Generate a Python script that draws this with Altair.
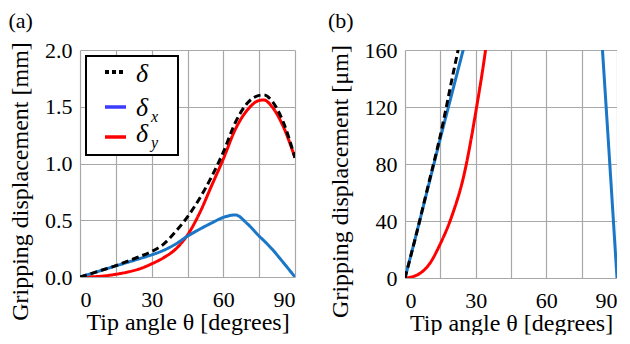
import altair as alt
import pandas as pd

# Tip angle (degrees)
theta = [0, 5, 10, 15, 20, 25, 30, 35, 40, 45, 50, 55, 60, 65, 70, 75, 77, 80, 85, 90]
# Gripping displacement in mm
delta = [0, 0.032, 0.066, 0.10, 0.14, 0.18, 0.225, 0.29, 0.40, 0.53, 0.69, 0.88, 1.10, 1.36, 1.53, 1.60, 1.605, 1.56, 1.37, 1.05]
delta_x = [0, 0.032, 0.065, 0.098, 0.13, 0.162, 0.195, 0.235, 0.29, 0.36, 0.42, 0.475, 0.525, 0.547, 0.47, 0.36, 0.32, 0.255, 0.13, 0]
delta_y = [0, 0.002, 0.009, 0.024, 0.044, 0.072, 0.116, 0.17, 0.245, 0.37, 0.56, 0.80, 1.04, 1.30, 1.47, 1.555, 1.56, 1.51, 1.33, 1.05]

series_names = ["delta_y", "delta_x", "delta"]
series_colors = ["#ff0000", "#1a76c6", "#000000"]

x_ticks = [0, 15, 30, 45, 60, 75, 90]
y_ticks_a = [0, 0.5, 1.0, 1.5, 2.0]
y_ticks_b = [0, 40, 80, 120, 160]

FONT = "Liberation Serif"

rows = []
for name, vals in zip(["delta", "delta_x", "delta_y"], [delta, delta_x, delta_y]):
    for t, v in zip(theta, vals):
        rows.append({"theta": t, "series": name, "mm": v, "um": v * 1000})
df = pd.DataFrame(rows)

common_axis = dict(grid=True, gridColor="#a8a8a8", gridWidth=1.2, domain=False, ticks=False,
                   labelFont=FONT, labelFontSize=22, labelColor="black",
                   titleFont=FONT, titleFontSize=24, titleFontWeight="normal", titleColor="black")

xaxis = alt.Axis(values=x_ticks, labelExpr="datum.value % 30 == 0 ? datum.label : ''",
                 title="Tip angle θ  [degrees]", labelPadding=12, titlePadding=0, **common_axis)


def panel(field, ydom, yticks, yfmt, ytitle, label, w, h, legend=False):
    base = alt.Chart(df)
    layers = []
    for name, col in zip(series_names, series_colors):
        dash = [7, 4] if name == "delta" else [1, 0]
        layers.append(
            base.transform_filter(alt.datum.series == name)
            .mark_line(color=col, strokeWidth=3, strokeDash=dash, interpolate="monotone", clip=True)
            .encode(
                x=alt.X("theta:Q", scale=alt.Scale(domain=[0, 90], nice=False), axis=xaxis),
                y=alt.Y(f"{field}:Q", scale=alt.Scale(domain=ydom, nice=False),
                        axis=alt.Axis(values=yticks, format=yfmt, title=ytitle, titleY=131,
                                      labelPadding=8, titlePadding=12, **common_axis)),
            )
        )
    if legend:
        one = pd.DataFrame({"k": [0]})
        lb = alt.Chart(one)
        layers.append(lb.mark_rect(fill="white", stroke="black", strokeWidth=2).encode(
            x=alt.value(6), x2=alt.value(98), y=alt.value(6), y2=alt.value(105)))
        layers.append(lb.mark_rule(color="black", strokeWidth=4, strokeDash=[4, 3]).encode(
            x=alt.value(25), x2=alt.value(46), y=alt.value(22)))
        layers.append(lb.mark_rule(color="#3b3bff", strokeWidth=3.5).encode(
            x=alt.value(25), x2=alt.value(46), y=alt.value(57)))
        layers.append(lb.mark_rule(color="#ff0000", strokeWidth=3.5).encode(
            x=alt.value(25), x2=alt.value(46), y=alt.value(87)))
        for txt, xx, yy, fs in [("δ", 56, 24, 26), ("δ", 56, 58, 26), ("x", 71, 67, 16),
                                ("δ", 56, 84, 26), ("y", 71, 93, 16)]:
            layers.append(lb.mark_text(text=txt, font=FONT, fontSize=fs, fontStyle="italic",
                                       align="left", baseline="middle", color="black").encode(
                x=alt.value(xx), y=alt.value(yy)))
    return alt.layer(*layers).properties(
        width=w, height=h,
        title=alt.TitleParams(label, anchor="start", frame="bounds", fontSize=22,
                              font=FONT, fontWeight="normal", offset=6, color="black"),
    )


pa = panel("mm", [0, 2.0], y_ticks_a, ".1f", "Gripping displacement [mm]", "(a)", 215, 227, legend=True)
pb = panel("um", [0, 160], y_ticks_b, "d", "Gripping displacement [μm]", "(b)", 212, 228)

chart = alt.hconcat(pa, pb, spacing=32).properties(
    padding={"top": 2, "left": 0, "right": 0, "bottom": 0}
).configure_view(strokeWidth=0)

chart.save("out.html", embed_options={"renderer": "svg", "actions": False})
